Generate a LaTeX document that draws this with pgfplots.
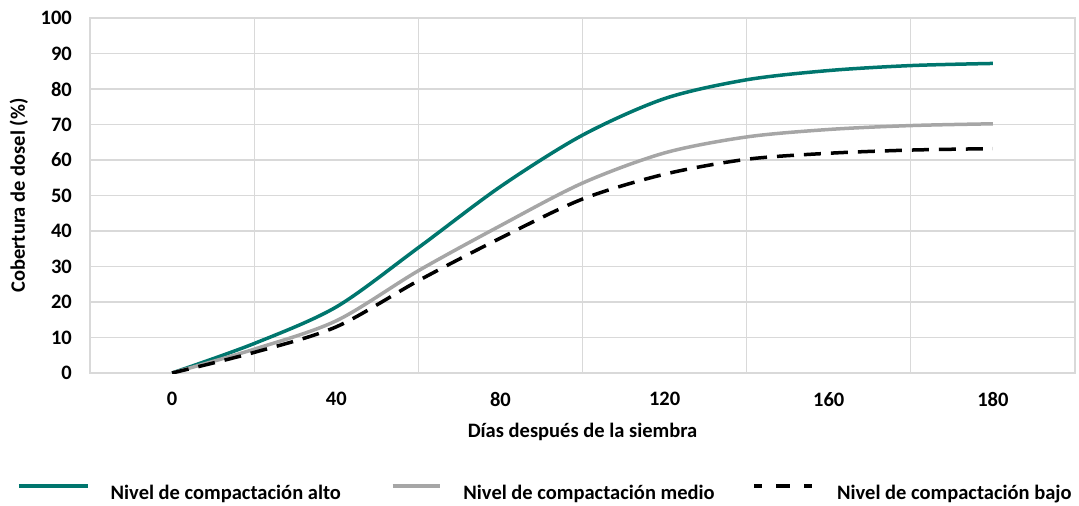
\documentclass[border=0pt]{standalone}
\usepackage{pgfplots}
\pgfplotsset{compat=1.18}
\usepackage{fontspec}
\setmainfont{Carlito}
\definecolor{tealc}{RGB}{0,118,110}
\definecolor{grayc}{RGB}{166,166,166}
\definecolor{gridc}{RGB}{217,217,217}
\newcommand{\cfont}{\fontsize{20.5}{24}\selectfont\bfseries}
\begin{document}
\begin{tikzpicture}
\begin{axis}[
  name=ax,
  scale only axis,
  width=985pt, height=355pt,
  xmin=-0.5, xmax=5.5, ymin=0, ymax=100,
  xtick={0,1,2,3,4,5},
  xticklabels={0,40,80,120,160,180},
  minor xtick={-0.5,0.5,1.5,2.5,3.5,4.5,5.5},
  xminorgrids=true, xmajorgrids=false,
  ytick={0,10,...,100},
  ymajorgrids=true,
  major tick length=0pt, minor tick length=0pt,
  grid style={draw=gridc, line width=1.3pt},
  minor grid style={draw=gridc, line width=1.3pt},
  axis line style={draw=gridc, line width=1.3pt},
  /pgf/number format/assume math mode=true,
  every tick label/.append style={font=\cfont, text=black},
  xticklabel style={inner sep=0pt, anchor=north, yshift=-19pt},
  yticklabel style={inner sep=0pt, anchor=east, xshift=-18pt},
  xlabel={Días después de la siembra},
  ylabel={Cobertura de dosel (\%)},
  label style={font=\cfont},
  xlabel style={at={(axis description cs:0.5,0)}, anchor=base, inner sep=0pt, yshift=-64pt},
  ylabel style={at={(axis description cs:0,0.5)}, anchor=base, inner sep=0pt, yshift=65pt},
  legend columns=3,
  legend style={at={(axis description cs:0,0)}, anchor=north west, xshift=-73pt, yshift=-111pt,
    draw=none, fill=none, inner sep=0pt, font=\cfont,
    nodes={inner sep=0pt},
    /tikz/column 1/.style={column sep=21pt},
    /tikz/column 2/.style={column sep=50pt},
    /tikz/column 3/.style={column sep=22pt},
    /tikz/column 4/.style={column sep=38pt},
    /tikz/column 5/.style={column sep=23pt}},
]
\addplot[color=tealc, line width=3.5pt, smooth, legend image code/.code={\draw[tealc, line width=3.5pt] (0pt,7pt) -- (69pt,7pt);}] coordinates {
(0,0) (0.5,8.3) (1,18.6) (1.5,35.3) (2,52.5) (2.5,67) (3,77.3) (3.5,82.6) (4,85.2) (4.5,86.6) (5,87.2)};
\addlegendentry{Nivel de compactación alto}
\addplot[color=grayc, line width=3.5pt, smooth, legend image code/.code={\draw[grayc, line width=3.5pt] (0pt,7pt) -- (47pt,7pt);}] coordinates {
(0,0) (0.5,6.7) (1,14.7) (1.5,28.8) (2,41.5) (2.5,53.5) (3,62) (3.5,66.5) (4,68.6) (4.5,69.7) (5,70.2)};
\addlegendentry{Nivel de compactación medio}
\addplot[color=black, line width=3.5pt, smooth, dash pattern=on 17pt off 10pt, legend image code/.code={\draw[black, line width=3.5pt, dash pattern=on 8pt off 14pt on 14pt off 14pt on 8pt] (0pt,7pt) -- (58pt,7pt);}] coordinates {
(0,0) (0.5,5.8) (1,13) (1.5,26) (2,38) (2.5,49) (3,56) (3.5,60.2) (4,61.9) (4.5,62.8) (5,63.2)};
\addlegendentry{Nivel de compactación bajo}
\end{axis}
\pgfresetboundingbox
\path (ax.south west) ++(-90pt,-133pt) rectangle ++(1079pt,506pt);
\end{tikzpicture}
\end{document}
